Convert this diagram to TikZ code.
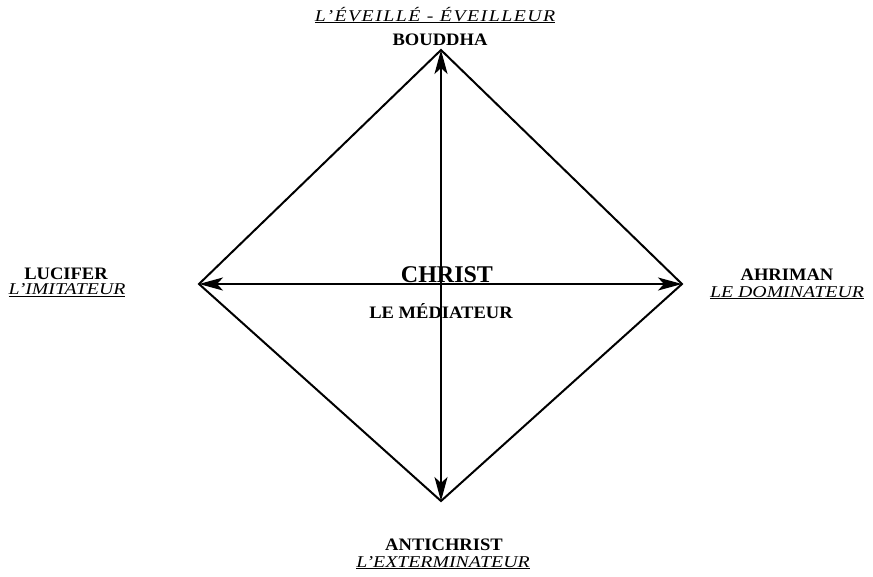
\documentclass[tikz,border=0pt]{standalone}
\usepackage{fontspec}
\setmainfont{Liberation Serif}
\usetikzlibrary{arrows.meta}
\begin{document}
\begin{tikzpicture}[x=1pt,y=-1pt,
  edge/.style={line width=2pt},
  tip/.style={Stealth[length=24pt,width=13pt,inset=6pt]},
  dbl/.style={line width=2pt,{Stealth[length=24pt,width=13pt,inset=6pt]}-{Stealth[length=24pt,width=13pt,inset=6pt]}},
  lname/.style={inner sep=0pt,anchor=base,font=\fontsize{17.5}{18}\selectfont\bfseries\addfontfeature{FakeStretch=1.06}},
  lrole/.style={inner sep=0pt,anchor=base,font=\fontsize{16.5}{17}\selectfont\itshape\addfontfeature{FakeStretch=1.2}},
  lbig/.style={inner sep=0pt,anchor=base,font=\fontsize{24}{25}\selectfont\bfseries}]
\useasboundingbox (0,0) rectangle (873,576);
\coordinate (T) at (441,50);
\coordinate (L) at (199,284);
\coordinate (R) at (682,284);
\coordinate (B) at (441,501);
\draw[edge,line join=miter] (T) -- (R) -- (B) -- (L) -- cycle;
\draw[dbl] (T) -- (B);
\draw[dbl] (L) -- (R);
\node[lrole,font=\fontsize{16.5}{17}\selectfont\itshape\addfontfeature{FakeStretch=1.2,LetterSpace=9}] (eveil) at (435,21) {\underline{L'ÉVEILLÉ - ÉVEILLEUR}};
\node[lname] (bouddha) at (440,45) {BOUDDHA};
\node[lname] (lucifer) at (66,279.5) {LUCIFER};
\node[lrole] (imit) at (67,294.5) {\underline{L'IMITATEUR}};
\node[lname] (ahriman) at (787,280.5) {AHRIMAN};
\node[lrole] (domin) at (787,297) {\underline{LE DOMINATEUR}};
\node[lbig] (christ) at (447,282) {CHRIST};
\node[lname] (media) at (441,318) {LE MÉDIATEUR};
\node[lname] (anti) at (444,550) {ANTICHRIST};
\node[lrole] (exterm) at (443,567) {\underline{L'EXTERMINATEUR}};
\end{tikzpicture}
\end{document}
